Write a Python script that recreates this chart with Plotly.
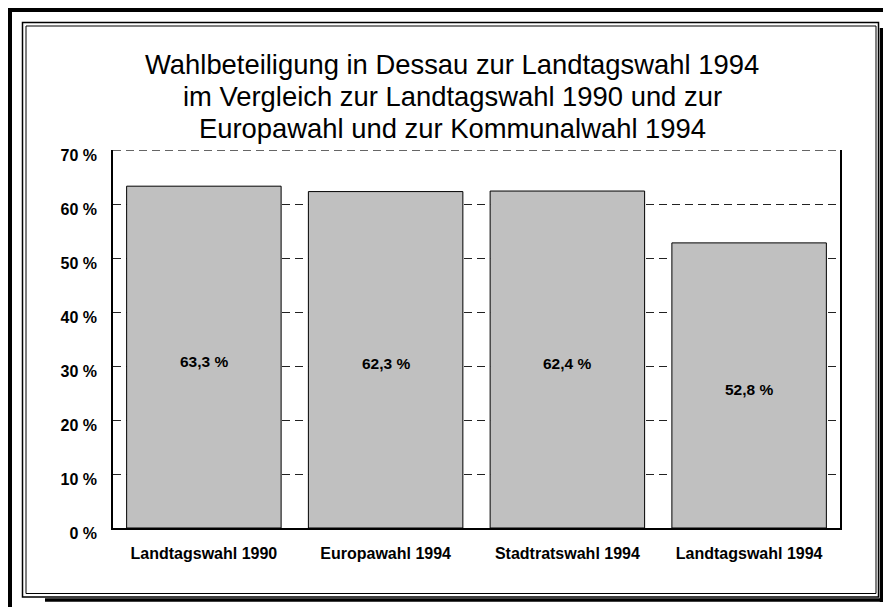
import plotly.graph_objects as go

# ---- data ----
categories = ["Landtagswahl 1990", "Europawahl 1994", "Stadtratswahl 1994", "Landtagswahl 1994"]
turnout = [63.3, 62.3, 62.4, 52.8]
title_lines = [
    "Wahlbeteiligung in Dessau zur Landtagswahl 1994",
    "im Vergleich zur Landtagswahl 1990 und zur",
    "Europawahl und zur Kommunalwahl 1994",
]
bar_labels = [f"{v:.1f}".replace(".", ",") + " %" for v in turnout]
y_max = 70

W, H = 883, 607
L, R, T, B = 113, 840, 150, 528
FONT = "Liberation Sans, Arial, sans-serif"


def px(x):
    return (x - L) / (R - L)


def py(y):
    return (B - y) / (B - T)


fig = go.Figure(
    go.Bar(
        x=categories,
        y=turnout,
        marker=dict(color="#c0c0c0", line=dict(color="black", width=1)),
        hoverinfo="skip",
    )
)

annotations = []
for line, yc in zip(title_lines, [64, 96, 128]):
    annotations.append(
        dict(
            text=line, x=px(452), y=py(yc), xref="paper", yref="paper",
            xanchor="center", yanchor="middle", showarrow=False,
            font=dict(family=FONT, size=27.4, color="black"),
        )
    )
# value labels centred in each bar (slightly below the middle, as in the original)
for cat, v, lab in zip(categories, turnout, bar_labels):
    annotations.append(
        dict(
            text=lab, x=cat, y=v / 2, xref="x", yref="y", showarrow=False,
            xanchor="center", yanchor="middle", yshift=-4,
            font=dict(family=FONT, size=15.5, color="black", weight="bold"),
        )
    )

shapes = [
    # top dashed grid line at the range maximum
    dict(type="line", xref="paper", yref="y", x0=0, x1=1, y0=y_max, y1=y_max,
         line=dict(color="#333333", width=1.5, dash="8px,5px"), layer="below"),
    # outer thick frame (top and left)
    dict(type="line", xref="paper", yref="paper", x0=px(8), x1=px(883), y0=py(10), y1=py(10),
         line=dict(color="black", width=4)),
    dict(type="line", xref="paper", yref="paper", x0=px(10), x1=px(10), y0=py(8), y1=py(607),
         line=dict(color="black", width=4)),
    # inner double frame
    dict(type="rect", xref="paper", yref="paper", x0=px(22.5), x1=px(878.5), y0=py(22.5), y1=py(597),
         line=dict(color="black", width=1.5)),
    dict(type="rect", xref="paper", yref="paper", x0=px(26), x1=px(876), y0=py(26), y1=py(593.5),
         line=dict(color="black", width=1)),
    # shadow right and bottom
    dict(type="line", xref="paper", yref="paper", x0=px(881.5), x1=px(881.5), y0=py(28), y1=py(602),
         line=dict(color="black", width=3.5)),
    dict(type="line", xref="paper", yref="paper", x0=px(45), x1=px(883), y0=py(600), y1=py(600),
         line=dict(color="black", width=3.5)),
]

fig.update_layout(
    width=W, height=H,
    margin=dict(l=L, r=W - R, t=T, b=H - B, pad=0),
    paper_bgcolor="white", plot_bgcolor="white",
    showlegend=False, bargap=0.15,
    annotations=annotations, shapes=shapes,
    font=dict(family=FONT, color="black"),
)
fig.update_yaxes(
    range=[0, y_max], dtick=10, ticksuffix=" %", showgrid=True,
    gridcolor="#222222", griddash="8px,5px", gridwidth=1,
    showline=True, linecolor="black", linewidth=1.5, mirror=True,
    zeroline=False, ticks="", ticklabelstandoff=11, ticklabelshift=5,
    tickfont=dict(family=FONT, size=16, color="black", weight="bold"),
    fixedrange=True,
)
fig.update_xaxes(
    showline=True, linecolor="black", linewidth=1.5, mirror=False,
    showgrid=False, ticks="", ticklabelstandoff=10,
    tickfont=dict(family=FONT, size=16, color="black", weight="bold"),
    fixedrange=True,
)

fig.write_html(
    "out.html",
    config={"displayModeBar": False},
    post_script="document.body.style.margin='0';document.body.style.overflow='hidden';",
)
